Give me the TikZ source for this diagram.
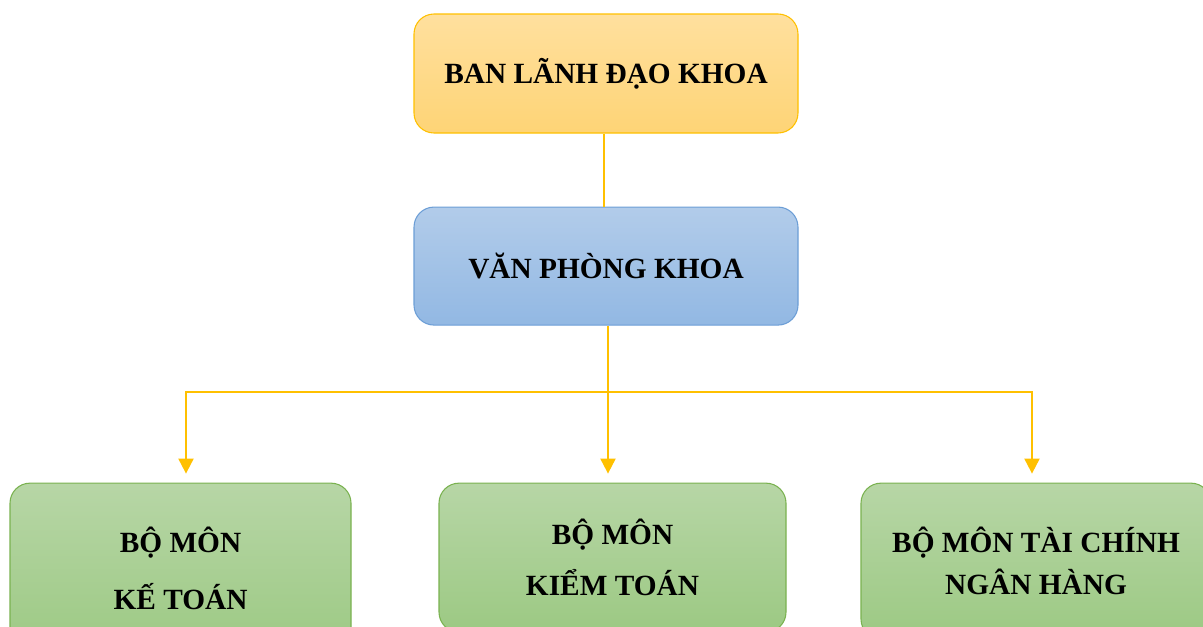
\documentclass[tikz,border=0pt]{standalone}
\usepackage{fontspec}
\setmainfont{Liberation Serif}
\usetikzlibrary{positioning,arrows.meta}

\definecolor{vangTop}{RGB}{255,224,158}
\definecolor{vangBot}{RGB}{254,212,118}
\definecolor{vangLine}{RGB}{255,192,0}
\definecolor{xanhTop}{RGB}{178,204,234}
\definecolor{xanhBot}{RGB}{146,184,227}
\definecolor{xanhLine}{RGB}{108,158,214}
\definecolor{laTop}{RGB}{183,214,166}
\definecolor{laBot}{RGB}{156,201,131}
\definecolor{laLine}{RGB}{122,178,80}

\tikzset{
  khoi/.style={rectangle, rounded corners=15pt, line width=0.8pt, align=center,
    font=\bfseries\fontsize{22}{26}\selectfont, inner sep=0pt},
  lanhdao/.style={khoi, draw=vangLine, top color=vangTop, bottom color=vangBot,
    minimum width=288pt, minimum height=89.25pt},
  vanphong/.style={khoi, draw=xanhLine, top color=xanhTop, bottom color=xanhBot,
    minimum width=288pt, minimum height=88.5pt},
  bomon/.style={khoi, draw=laLine, top color=laTop, bottom color=laBot},
  link/.style={draw=vangLine, line width=1.5pt},
  muiten/.style={link, -{Triangle[width=11.25pt,length=11.25pt]}}
}

\begin{document}
\begin{tikzpicture}
\useasboundingbox (0,0) rectangle (902.25pt,-469.5pt);
\node[lanhdao] (bld) at (454.5pt,-55.125pt) {BAN LÃNH ĐẠO KHOA};
\node[vanphong, below=54.75pt of bld] (vpk) {VĂN PHÒNG KHOA};
\node[bomon, minimum width=255.75pt, minimum height=128.25pt,
  below=117.75pt of vpk, xshift=-319.125pt] (ketoan) {BỘ MÔN\\[16.75pt]KẾ TOÁN};
\node[bomon, minimum width=260.25pt, minimum height=111.75pt,
  below=117.75pt of vpk, xshift=4.875pt] (kiemtoan) {BỘ MÔN\\[12pt]KIỂM TOÁN};
\node[bomon, minimum width=262.5pt, minimum height=117pt,
  below=117.75pt of vpk, xshift=322.5pt] (taichinh) {BỘ MÔN TÀI CHÍNH\\[5.5pt]NGÂN HÀNG};
% connectors
\coordinate (chia) at ([xshift=1.5pt,yshift=-49.5pt]vpk.south);
\draw[link] ([xshift=-1.5pt]bld.south) -- ([xshift=-1.5pt]vpk.north);
\draw[muiten] ([xshift=1.5pt]vpk.south) -- ([xshift=-3.375pt,yshift=6.75pt]kiemtoan.north);
\draw[muiten] (chia) -| ([xshift=4.125pt,yshift=6.75pt]ketoan.north);
\draw[muiten] (chia) -| ([xshift=-3pt,yshift=6.75pt]taichinh.north);
\end{tikzpicture}
\end{document}
